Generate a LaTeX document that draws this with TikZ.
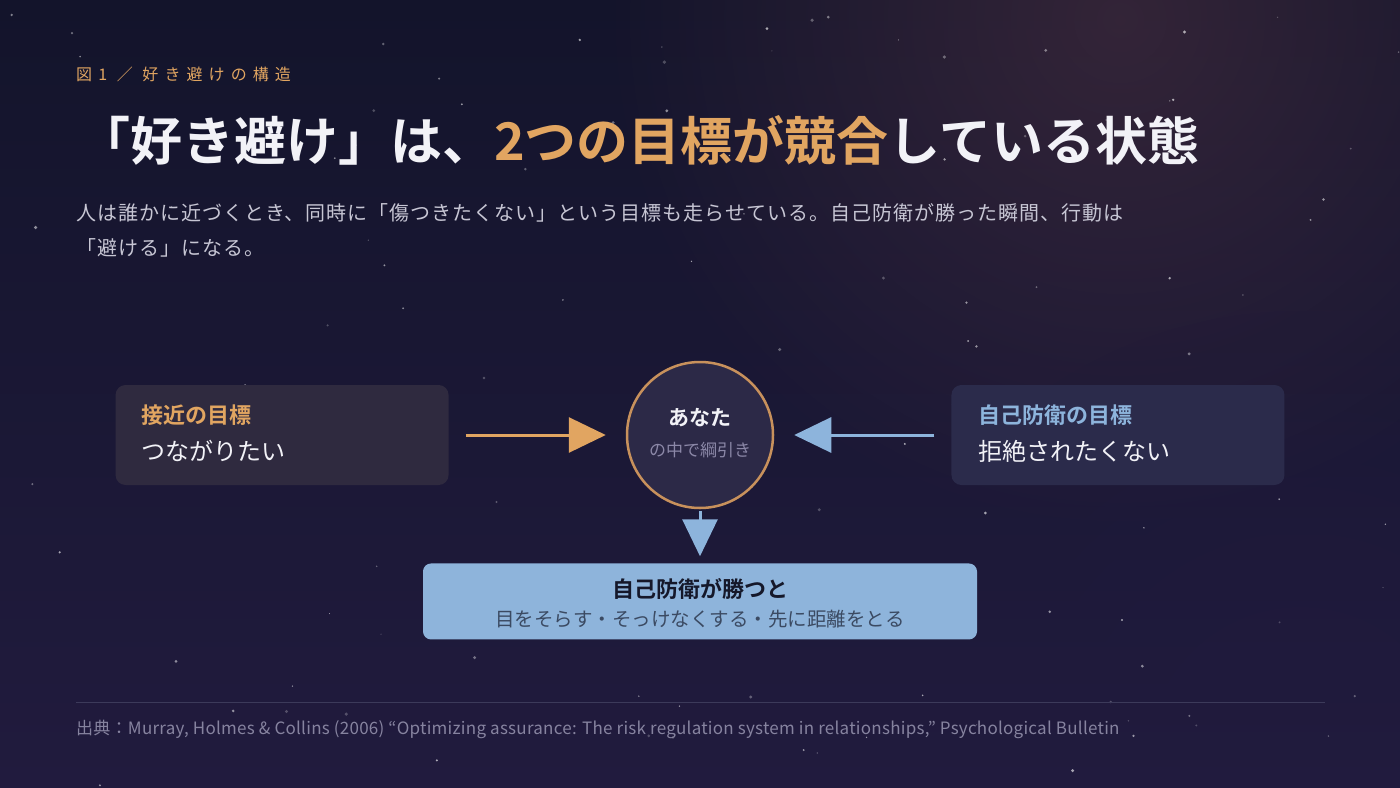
\documentclass[tikz,border=0pt]{standalone}
\usepackage{fontspec}
\setmainfont{Noto Sans CJK JP}[BoldFont={* Bold}]
\usepackage{xcolor}
\usetikzlibrary{positioning,arrows.meta,fadings}
\definecolor{bgtop}{HTML}{13142B}
\definecolor{bgbot}{HTML}{211B3E}
\definecolor{glow}{HTML}{4E3242}
\definecolor{accent}{HTML}{E1A561}
\definecolor{calm}{HTML}{8DB4DC}
\definecolor{txtwhite}{HTML}{F2F2F7}
\definecolor{txtsub}{HTML}{C7C6D4}
\definecolor{txtdim}{HTML}{8C88A8}
\definecolor{txtfoot}{HTML}{86839F}
\definecolor{boxwarm}{HTML}{2F2A3F}
\definecolor{boxcool}{HTML}{2B2B4B}
\definecolor{selffill}{HTML}{2C2947}
\definecolor{ringcol}{HTML}{C8915C}
\definecolor{resfill}{HTML}{8EB4DB}
\definecolor{resdark}{HTML}{15182A}
\definecolor{resmid}{HTML}{3B4A62}
\definecolor{rulecol}{HTML}{3C3A5A}
\tikzfading[name=softglow, inner color=transparent!0, outer color=transparent!100]
\begin{document}
\begin{tikzpicture}[x=1pt, y=-1pt,
      goal/.style = {rectangle, rounded corners=10pt, minimum width=333pt,
                     minimum height=100pt, inner sep=0pt},
      head/.style = {font=\bfseries\fontsize{22}{26}\selectfont,
                     inner sep=0pt, anchor=base west},
      body/.style = {text=txtwhite, font=\fontsize{24}{28}\selectfont,
                     inner sep=0pt, anchor=base west},
       arr/.style = {line width=3pt, -{Triangle[length=37pt, width=35pt]}},
      plain/.style = {inner sep=0pt, anchor=base west},
                    ]
    %% background
    \useasboundingbox (0,0) rectangle (1400,787);
    \shade[top color=bgtop, bottom color=bgbot] (0,0) rectangle (1400,787);
    \fill[glow, fill opacity=0.55, path fading=softglow] (1120,20) circle[radius=520pt];
    \fill[bgbot, fill opacity=0.5, path fading=softglow] (1300,760) circle[radius=450pt];
    %% stars
    \pgfmathsetseed{17}
    \foreach \i in {1,...,110}{
      \pgfmathsetmacro\sx{rnd*1400}
      \pgfmathsetmacro\sy{rnd*787}
      \pgfmathsetmacro\sr{0.5+rnd*1.3}
      \pgfmathsetmacro\so{0.2+rnd*0.45}
      \fill[white, opacity=\so] (\sx,\sy) circle[radius=\sr pt];
    }
    %% header
    \node[plain, text=accent, font=\fontsize{16}{20}\selectfont\addfontfeature{LetterSpace=38}]
        (fig) at (76,80) {図1 ／ 好き避けの構造};
    \node[plain, text=txtwhite, font=\bfseries\fontsize{52}{62}\selectfont]
        (title) at (78,160)
        {「好き避け」は、\textcolor{accent}{2つの目標が競合}している状態};
    \node[plain, text=txtsub, font=\fontsize{20}{26}\selectfont\addfontfeature{LetterSpace=5}]
        (lead1) at (76,220)
        {人は誰かに近づくとき、同時に「傷つきたくない」という目標も走らせている。自己防衛が勝った瞬間、行動は};
    \node[plain, text=txtsub, font=\fontsize{20}{26}\selectfont\addfontfeature{LetterSpace=5}]
        (lead2) at (76,255) {「避ける」になる。};
    %% tug of war
    \node[circle, draw=ringcol, line width=2.5pt, fill=selffill,
          minimum size=146pt, inner sep=0pt] (you) at (700,435) {};
    \node[text=txtwhite, font=\bfseries\fontsize{21}{24}\selectfont, inner sep=0pt]
        (youA) at (700,418) {あなた};
    \node[text=txtdim, font=\fontsize{17}{20}\selectfont, inner sep=0pt]
        (youB) at (700,450) {の中で綱引き};
    %
    \node[goal, fill=boxwarm, left=177pt of you] (approach) {};
    \node[head, text=accent] (approachH)
        at ([xshift=26pt, yshift=-39pt]approach.north west) {接近の目標};
    \node[body] (approachB)
        at ([xshift=26pt, yshift=-76pt]approach.north west) {つながりたい};
    %
    \node[goal, fill=boxcool, right=177pt of you] (guard) {};
    \node[head, text=calm] (guardH)
        at ([xshift=27pt, yshift=-39pt]guard.north west) {自己防衛の目標};
    \node[body] (guardB)
        at ([xshift=27pt, yshift=-76pt]guard.north west) {拒絶されたくない};
    %
    \node[rectangle, rounded corners=8pt, fill=resfill, minimum width=554pt,
          minimum height=76pt, below=54pt of you] (result) {};
    \node[text=resdark, font=\bfseries\fontsize{22}{26}\selectfont, inner sep=0pt]
        (resultH) at (700,589) {自己防衛が勝つと};
    \node[text=resmid, font=\fontsize{19.5}{24}\selectfont, inner sep=0pt]
        (resultB) at (700,619) {目をそらす・そっけなくする・先に距離をとる};
    %% arrows
    \draw[arr, accent, shorten <=17pt, shorten >=20pt] (approach.east) -- (you.west);
    \draw[arr, calm, shorten <=17pt, shorten >=20pt] (guard.west) -- (you.east);
    \draw[arr, calm, shorten <=2pt, shorten >=7pt] (you.south) -- (result.north);
    %% source
    \coordinate (ruleL) at (76,702);
    \coordinate (ruleR) at (1325,702);
    \draw[rulecol, line width=1pt] (ruleL) -- (ruleR);
    \node[plain, text=txtfoot, font=\fontsize{17}{20}\selectfont\addfontfeature{LetterSpace=1.5}]
        (source) at (76,734)
        {出典：Murray, Holmes \& Collins (2006) “Optimizing assurance: The risk regulation system in relationships,” Psychological Bulletin};
\end{tikzpicture}
\end{document}
